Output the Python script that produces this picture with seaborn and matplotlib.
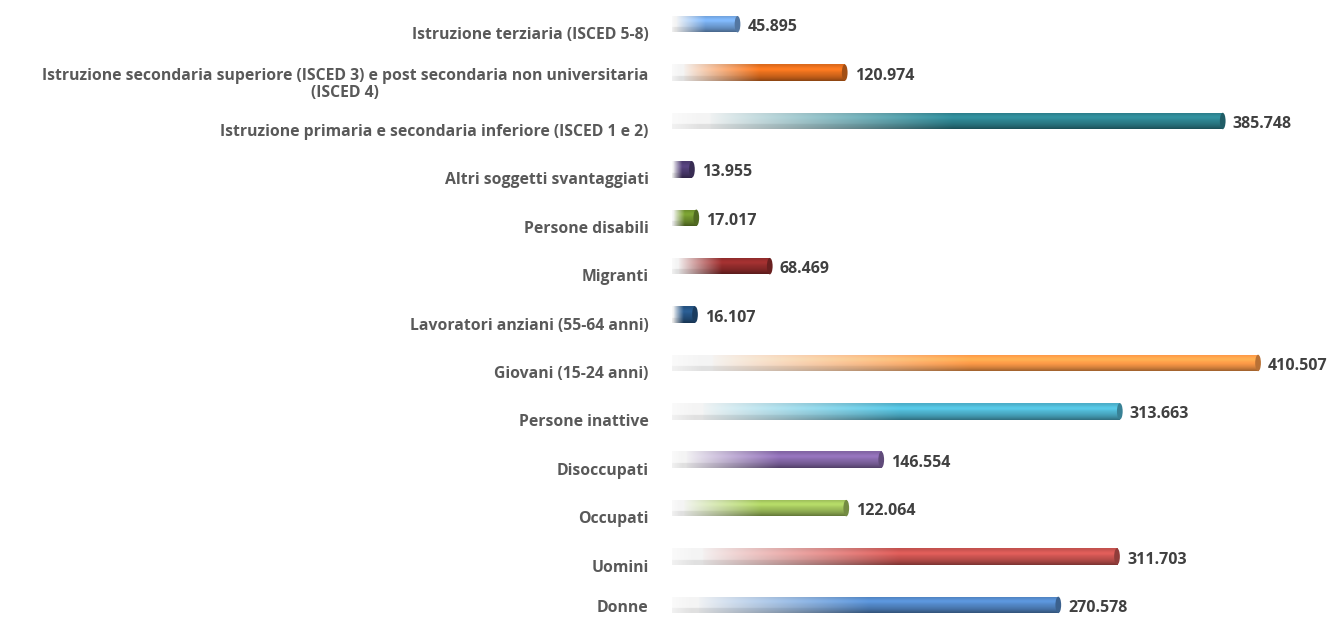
import numpy as np
import pandas as pd
import matplotlib
matplotlib.use("Agg")
import matplotlib.pyplot as plt
import matplotlib.transforms as mtransforms
from matplotlib.patches import Ellipse
from matplotlib.colors import to_rgb
import seaborn as sns

categories = [
    "Istruzione terziaria (ISCED 5-8)",
    "Istruzione secondaria superiore (ISCED 3) e post secondaria non universitaria\n(ISCED 4)",
    "Istruzione primaria e secondaria inferiore (ISCED 1 e 2)",
    "Altri soggetti svantaggiati",
    "Persone disabili",
    "Migranti",
    "Lavoratori anziani (55-64 anni)",
    "Giovani (15-24 anni)",
    "Persone inattive",
    "Disoccupati",
    "Occupati",
    "Uomini",
    "Donne",
]
values = [45.895, 120.974, 385.748, 13.955, 17.017, 68.469, 16.107,
          410.507, 313.663, 146.554, 122.064, 311.703, 270.578]
value_labels = ["45.895", "120.974", "385.748", "13.955", "17.017", "68.469", "16.107",
                "410.507", "313.663", "146.554", "122.064", "311.703", "270.578"]
colors = ["#6f9fd8", "#d9691c", "#2b7c88", "#4b3a6e", "#6b8c2c", "#8c2a2a", "#24507e",
          "#f79646", "#4bacc6", "#8064a2", "#9bbb59", "#c0504d", "#4f81bd"]

df = pd.DataFrame({"cat": categories, "val": values})

sns.set_style("white")
plt.rcParams["font.family"] = ["Open Sans", "DejaVu Sans"]

fig = plt.figure(figsize=(13.38, 6.17), dpi=100)
ax = fig.add_axes([672 / 1338, 0, 1 - 672 / 1338, 1])

sns.barplot(data=df, y="cat", x="val", hue="cat", palette=colors, legend=False,
            orient="h", width=0.34, ax=ax)

ax.set_xlim(0, 466.5)
ax.set_ylim(12.25, -0.5)

# cylinder look: fade-in on the left, vertical shading, end cap
for i, (p, c) in enumerate(zip(ax.patches, colors)):
    x0, y0 = p.get_x(), p.get_y()
    w, h = p.get_width(), p.get_height()
    base = np.array(to_rgb(c))
    nx, ny = 300, 30
    t = np.linspace(0, 1, nx)
    fade = np.clip((t - 0.06) / 0.45, 0, 1) ** 0.9
    fade[t < 0.07] *= 0.2
    v = np.linspace(0, 1, ny)
    shade = 1.0 + 0.18 * np.exp(-((v - 0.3) / 0.18) ** 2) - 0.35 * np.clip((v - 0.55) / 0.45, 0, 1) ** 1.5
    img = np.ones((ny, nx, 4))
    for k in range(3):
        col = np.clip(base[k] * shade[:, None], 0, 1)
        light = 0.96 - 0.08 * (v[:, None] > 0.7)
        img[:, :, k] = light * (1 - fade[None, :]) + col * fade[None, :]
    img[:, :, 3] = 0.45 + 0.55 * np.clip(t / 0.05, 0, 1)[None, :]
    im = ax.imshow(img, extent=(x0, x0 + w, y0 + h, y0), aspect="auto",
                   interpolation="bilinear", zorder=3)
    im.set_clip_path(p)
    p.set_facecolor("none")
    p.set_edgecolor("none")
    cap = Ellipse((x0 + w, y0 + h / 2), width=4.0, height=h,
                  facecolor=tuple(base * 0.75), edgecolor="none", zorder=4)
    ax.add_patch(cap)
    ax.annotate(value_labels[i], xy=(x0 + w, y0 + h / 2),
                xytext=(10, -3), textcoords="offset pixels", ha="left", va="center",
                fontsize=11.5, fontweight="bold", color="#404040")

ax.set_aspect("auto")
ax.set_xlabel("")
ax.set_ylabel("")
ax.set_xticks([])
ax.tick_params(axis="y", length=0, pad=17)
ax.set_yticks(range(len(categories)))
ax.set_yticklabels(categories, fontsize=11.3, fontweight="bold", color="#595959",
                   multialignment="center", linespacing=1.15)
labs = ax.get_yticklabels()
for j, lab in enumerate(labs):
    dy = 9 if j < len(labs) - 1 else 1
    offset = mtransforms.ScaledTranslation(0, -dy / 100, fig.dpi_scale_trans)
    lab.set_transform(lab.get_transform() + offset)
sns.despine(ax=ax, left=True, bottom=True)

fig.savefig("out.png", dpi=100)
